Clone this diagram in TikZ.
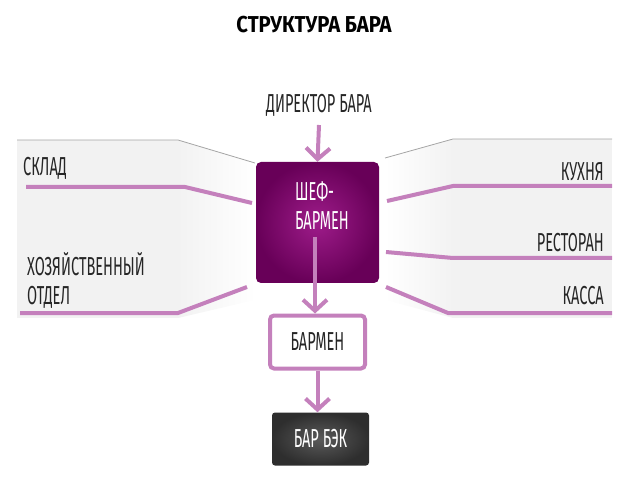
\documentclass[tikz,border=0pt]{standalone}
\usepackage{fontspec}
\setmainfont[FakeStretch=0.56]{Fira Sans}
\newfontfamily\headfont[FakeStretch=0.88]{Fira Sans}
\usetikzlibrary{arrows.meta,positioning}

\definecolor{barpink}{RGB}{196,128,188}
\definecolor{panelgray}{RGB}{242,242,242}
\definecolor{edgegray}{RGB}{165,165,165}
\definecolor{chefin}{RGB}{158,28,138}
\definecolor{chefout}{RGB}{104,0,88}
\definecolor{backin}{RGB}{90,90,90}
\definecolor{backout}{RGB}{46,46,46}

\begin{document}
\begin{tikzpicture}[x=1pt,y=-1pt,
    txt/.style={font=\fontsize{26}{29}\selectfont,inner sep=0pt,text=black!85},
    pinkline/.style={barpink,line width=4pt},
    thinline/.style={edgegray,line width=0.8pt},
    arrow/.style={barpink,line width=4pt,-{Straight Barb[length=11pt,width=24pt]}},
    chefbox/.style={rounded corners=5pt,minimum width=123pt,minimum height=121pt,
      inner color=chefin,outer color=chefout},
    barmenbox/.style={draw=barpink,line width=4pt,rounded corners=4pt,fill=white,
      minimum width=95pt,minimum height=53pt},
    backbox/.style={rounded corners=3pt,minimum width=97pt,minimum height=53pt,
      inner color=backin,outer color=backout}]
  \useasboundingbox (0,0) rectangle (630,484);

  % left panel
  \fill[panelgray] (17,140) rectangle (178,318);
  \shade[left color=panelgray,right color=white] (178,140) -- (255,163) -- (255,300) -- (178,318) -- cycle;
  \draw[thinline] (17,140) -- (178,140) -- (255,163);
  \draw[pinkline] (26,187) -- (185,187) -- (252,203);
  \draw[pinkline] (20,313) -- (178,313) -- (247,287);

  % right panel
  \fill[panelgray] (453,139) rectangle (612,318);
  \shade[left color=white,right color=panelgray] (385,158) -- (453,139) -- (453,318) -- (385,300) -- cycle;
  \draw[thinline] (385,158) -- (453,139) -- (612,139);
  \draw[pinkline] (387,201) -- (453,186) -- (612,186);
  \draw[pinkline] (386,252) -- (453,258) -- (612,258);
  \draw[pinkline] (386,287) -- (448,313) -- (612,313);

  \node[font=\headfont\bfseries\fontsize{23}{26}\selectfont,inner sep=0pt] (title) at (314,25) {СТРУКТУРА БАРА};
  \node[txt] (director) at (319,105) {ДИРЕКТОР БАРА};

  \node[chefbox] (chef) at (317.5,222.5) {};
  \node[txt,text=white,align=left] (cheflabel) at (322,206) {ШЕФ-\\БАРМЕН};
  \node[barmenbox] (barmen) at (317.5,342) {};
  \node[txt] (barmenlabel) at (barmen) {БАРМЕН};
  \node[backbox,text=white,font=\fontsize{26}{29}\selectfont] (barback) at (320.5,439) {БАР БЭК};

  \node[txt,anchor=west] (sklad) at (23,168) {СКЛАД};
  \node[txt,anchor=north west,align=left] (hoz) at (27,252) {ХОЗЯЙСТВЕННЫЙ\\ОТДЕЛ};
  \node[txt,anchor=east] (kitchen) at (604,172) {КУХНЯ};
  \node[txt,anchor=east] (restaurant) at (604,243) {РЕСТОРАН};
  \node[txt,anchor=east] (cash) at (604,296) {КАССА};

  \draw[arrow] (director.south |- 0,125) -- (chef.north);
  \draw[arrow] ([xshift=-2.5pt,yshift=-14.5pt]chef.center) -- ([xshift=-2.5pt]barmen.north);
  \draw[arrow] (barmen.south) -- (barmen.south |- barback.north);
\end{tikzpicture}
\end{document}
